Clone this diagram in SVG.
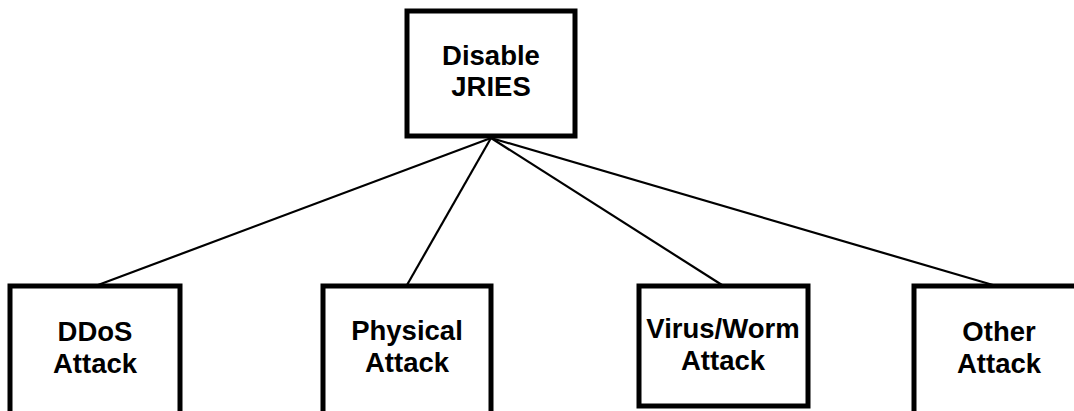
<svg xmlns="http://www.w3.org/2000/svg" width="1074" height="411" viewBox="0 0 1074 411">
<style>
.box{fill:#fff;stroke:#000;stroke-width:5}
.lbl{font-family:"Liberation Sans",Arial,sans-serif;font-weight:bold;font-size:27.5px;text-anchor:middle;fill:#000}
.con{stroke:#000;stroke-width:2.2;fill:none}
</style>
<rect width="1074" height="411" fill="#fff"/>
<g id="connectors">
<line class="con" x1="491" y1="138" x2="98" y2="285"/>
<line class="con" x1="491" y1="138" x2="407" y2="285"/>
<line class="con" x1="491" y1="138" x2="722" y2="285"/>
<line class="con" x1="491" y1="138" x2="993" y2="285"/>
</g>
<g id="disable">
<rect class="box" x="407" y="11" width="168" height="125"/>
<text class="lbl" x="491" y="65">Disable</text>
<text class="lbl" x="491" y="96">JRIES</text>
</g>
<g id="ddos">
<rect class="box" x="10" y="286" width="170" height="135"/>
<text class="lbl" x="95" y="341">DDoS</text>
<text class="lbl" x="95" y="373">Attack</text>
</g>
<g id="physical">
<rect class="box" x="323" y="286" width="168" height="135"/>
<text class="lbl" x="407" y="340">Physical</text>
<text class="lbl" x="407" y="372">Attack</text>
</g>
<g id="virus">
<rect class="box" x="639" y="286" width="169" height="120"/>
<text class="lbl" x="723" y="338">Virus/Worm</text>
<text class="lbl" x="723" y="370">Attack</text>
</g>
<g id="other">
<rect class="box" x="914" y="286" width="170" height="135"/>
<text class="lbl" x="999" y="341">Other</text>
<text class="lbl" x="999" y="373">Attack</text>
</g>
</svg>
